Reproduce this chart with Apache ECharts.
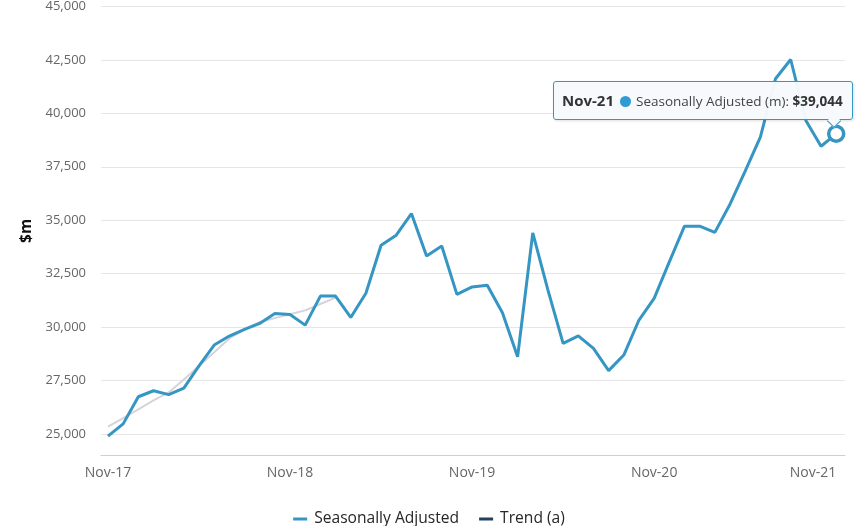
<!DOCTYPE html>
<html>
<head>
<meta charset="utf-8">
<script src="https://cdn.jsdelivr.net/npm/echarts@6/dist/echarts.min.js"></script>
<style>
html,body{margin:0;padding:0;background:#fff;}
#chart{width:858px;height:526px;}
</style>
</head>
<body>
<div id="chart"></div>
<script>
// ---- data ----
const months = [
  'Nov-17','Dec-17','Jan-18','Feb-18','Mar-18','Apr-18','May-18','Jun-18','Jul-18','Aug-18','Sep-18','Oct-18',
  'Nov-18','Dec-18','Jan-19','Feb-19','Mar-19','Apr-19','May-19','Jun-19','Jul-19','Aug-19','Sep-19','Oct-19',
  'Nov-19','Dec-19','Jan-20','Feb-20','Mar-20','Apr-20','May-20','Jun-20','Jul-20','Aug-20','Sep-20','Oct-20',
  'Nov-20','Dec-20','Jan-21','Feb-21','Mar-21','Apr-21','May-21','Jun-21','Jul-21','Aug-21','Sep-21','Oct-21',
  'Nov-21'
];
const seasonallyAdjusted = [
  24900, 25470, 26740, 27020, 26840, 27140, 28180, 29160, 29580, 29890, 30170, 30640,
  30590, 30090, 31450, 31450, 30450, 31580, 33830, 34300, 35310, 33330, 33790, 31530,
  31880, 31960, 30670, 28610, 34410, 31730, 29240, 29590, 29000, 27960, 28690, 30330,
  31340, 33050, 34720, 34720, 34430, 35750, 37300, 38890, 41620, 42520, 39670, 38460,
  39044
];
const trend = [
  25340, 25740, 26150, 26570, 26940, 27550, 28180, 28820, 29470, 29890, 30240, 30420,
  30600, 30780, 31080, 31380
];
const xTickIndex = [0, 12, 24, 36, 48];
const yTicks = [25000, 27500, 30000, 32500, 35000, 37500, 40000, 42500, 45000];
const seriesNames = ['Seasonally Adjusted', 'Trend (a)'];

// ---- chart ----
const FONT = "'Open Sans', 'Noto Sans', sans-serif";
const SA_COLOR = '#3596c4';
const TREND_COLOR = '#23415c';
const fmt = v => Math.round(v).toLocaleString('en-US');

const lastIdx = seasonallyAdjusted.length - 1;
const saData = seasonallyAdjusted.map((v, i) => {
  if (i === lastIdx) {
    return {
      value: [i, v],
      symbol: 'circle',
      symbolSize: 15,
      itemStyle: { color: '#ffffff', borderColor: SA_COLOR, borderWidth: 3.5 }
    };
  }
  return { value: [i, v] };
});
const trendData = trend.map((v, i) => [i, v]);

const chart = echarts.init(document.getElementById('chart'), null, { renderer: 'canvas' });
chart.setOption({
  animation: false,
  backgroundColor: '#ffffff',
  textStyle: { fontFamily: FONT },
  grid: { left: 101, right: 13, top: 6, bottom: 70.7, containLabel: false },
  legend: {
    data: [
      { name: seriesNames[0], itemStyle: { color: SA_COLOR } },
      { name: seriesNames[1], itemStyle: { color: TREND_COLOR } }
    ],
    icon: 'rect',
    itemWidth: 14,
    itemHeight: 3,
    itemGap: 20,
    left: 'center',
    top: 504,
    textStyle: { fontFamily: FONT, fontSize: 15.6, color: '#262626', lineHeight: 20, padding: [0, 0, 0, 2] }
  },
  tooltip: {
    trigger: 'item',
    triggerOn: 'none',
    alwaysShowContent: true,
    transitionDuration: 0,
    showDelay: 0,
    backgroundColor: 'rgba(247,250,252,0.97)',
    borderColor: SA_COLOR,
    borderWidth: 1,
    padding: [8, 9, 8, 8],
    extraCssText: 'border-radius:3px;box-shadow:1px 1px 3px rgba(0,0,0,0.12);',
    position: function (point, params, dom, rect, size) {
      return [point[0] + 17 - size.contentSize[0], point[1] - 53];
    },
    formatter: function (p) {
      const idx = p.value[0];
      return '<div style="position:relative;font-family:' + FONT.replace(/'/g, '&quot;') + ';white-space:nowrap;line-height:20px;color:#333">' +
        '<span style="font-size:15px;font-weight:bold;color:#333">' + months[idx] + '</span>' +
        '<span style="display:inline-block;width:11px;height:11px;border-radius:50%;background:#2e9bd4;margin:0 5px 0 6px;vertical-align:-1px"></span>' +
        '<span style="font-size:13.5px;color:#444">' + p.seriesName + ' (m): </span>' +
        '<span style="font-size:13.5px;font-weight:bold;color:#333">$' + fmt(p.value[1]) + '</span>' +
        '<div style="position:absolute;right:4px;bottom:-15px;width:9px;height:9px;background:rgb(247,250,252);border-right:1px solid ' + SA_COLOR + ';border-bottom:1px solid ' + SA_COLOR + ';transform:rotate(45deg)"></div>' +
        '</div>';
    }
  },
  xAxis: {
    type: 'value',
    min: -0.46,
    max: 48.58,
    axisLine: { show: true, lineStyle: { color: '#cfcfcf', width: 1 } },
    axisTick: { show: false },
    splitLine: { show: false },
    axisLabel: {
      customValues: xTickIndex,
      formatter: v => months[Math.round(v)],
      fontFamily: FONT,
      fontSize: 14,
      color: '#666',
      margin: 11,
      alignMaxLabel: 'right'
    }
  },
  yAxis: {
    type: 'value',
    min: 24000,
    max: 45000,
    name: '$m',
    nameLocation: 'middle',
    nameRotate: 90,
    nameGap: 64,
    nameTextStyle: { fontFamily: FONT, fontSize: 15.5, fontWeight: 'bold', color: '#111' },
    axisLine: { show: false },
    axisTick: { show: false, customValues: yTicks },
    splitLine: { show: true, lineStyle: { color: '#e6e6e6', width: 1 } },
    axisLabel: {
      customValues: yTicks,
      formatter: v => fmt(v),
      fontFamily: FONT,
      fontSize: 13,
      color: '#666',
      margin: 15
    }
  },
  series: [
    {
      name: seriesNames[0],
      type: 'line',
      data: saData,
      symbol: 'none',
      showSymbol: true,
      color: SA_COLOR,
      lineStyle: { color: SA_COLOR, width: 3 },
      z: 3,
      clip: false
    },
    {
      name: seriesNames[1],
      type: 'line',
      data: trendData,
      symbol: 'none',
      color: TREND_COLOR,
      lineStyle: { color: '#d6d3d9', width: 2 },
      z: 2,
      silent: true,
      tooltip: { show: false }
    }
  ]
});
chart.dispatchAction({ type: 'showTip', seriesIndex: 0, dataIndex: lastIdx });
</script>
</body>
</html>
